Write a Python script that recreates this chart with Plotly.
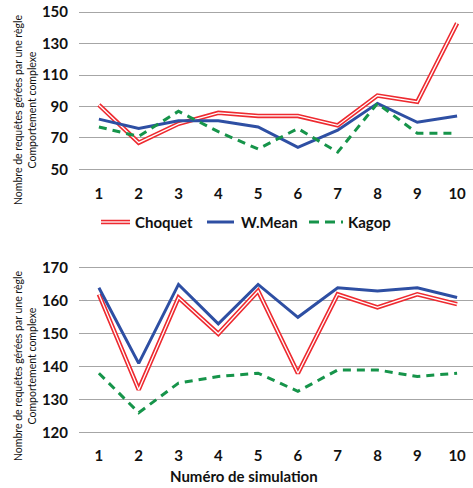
import plotly.graph_objects as go

sims = [1, 2, 3, 4, 5, 6, 7, 8, 9, 10]

top_choquet = [91, 67, 79, 86, 84, 84, 78, 97, 93, 143]
top_wmean = [82, 76, 81, 81, 77, 64, 75, 92, 80, 84]
top_kagop = [77, 71, 87, 74, 63, 76, 61, 92, 73, 73]

bot_choquet = [162, 133, 161, 150, 163, 138, 162, 158, 162, 159]
bot_wmean = [164, 141, 165, 153, 165, 155, 164, 163, 164, 161]
bot_kagop = [138, 126, 135, 137, 138, 132.5, 139, 139, 137, 138]

top_ticks = [50, 70, 90, 110, 130, 150]
bot_ticks = [120, 130, 140, 150, 160, 170]

RED = "#EE2A30"
BLUE = "#2E4FA3"
GREEN = "#16944A"
FONT = "Lato"

W, H = 473, 488
ML, MR, MT, MB = 79, 0, 9, 49
PW = W - ML - MR
PH = H - MT - MB


def px_x(x):
    return (x - ML) / PW


def px_y(y):
    return (H - MB - y) / PH


fig = go.Figure()


def add_series(xa, ya, choq, wm, kg):
    fig.add_trace(go.Scatter(x=sims, y=choq, mode="lines", xaxis=xa, yaxis=ya,
                             line=dict(color=RED, width=4.5), showlegend=False))
    fig.add_trace(go.Scatter(x=sims, y=choq, mode="lines", xaxis=xa, yaxis=ya,
                             line=dict(color="white", width=1.3), showlegend=False))
    fig.add_trace(go.Scatter(x=sims, y=wm, mode="lines", xaxis=xa, yaxis=ya,
                             line=dict(color=BLUE, width=3), showlegend=False))
    fig.add_trace(go.Scatter(x=sims, y=kg, mode="lines", xaxis=xa, yaxis=ya,
                             line=dict(color=GREEN, width=3, dash="8px,6px"),
                             showlegend=False))


add_series("x", "y", top_choquet, top_wmean, top_kagop)
add_series("x2", "y2", bot_choquet, bot_wmean, bot_kagop)

xcommon = dict(range=[0.5, 10.4], tickvals=sims, showgrid=False, zeroline=False,
               showline=False, ticks="",
               tickfont=dict(family=FONT, size=15, color="#111", weight="bold"))
ycommon = dict(showgrid=True, gridcolor="#A6A6A6", gridwidth=1.2, zeroline=False,
               showline=False, ticks="", ticklabelstandoff=10,
               tickfont=dict(family=FONT, size=15, color="#111", weight="bold"))

top_dom = [px_y(172.6), 1.0]
bot_dom = [0.0, px_y(261.4)]

fig.update_layout(
    width=W, height=H,
    margin=dict(l=ML, r=MR, t=MT, b=MB),
    paper_bgcolor="white", plot_bgcolor="white",
    xaxis=dict(**xcommon, anchor="y", ticklabelstandoff=10),
    yaxis=dict(**ycommon, domain=top_dom, range=[48, 152], tickvals=top_ticks),
    xaxis2=dict(**xcommon, anchor="y2", ticklabelstandoff=6),
    yaxis2=dict(**ycommon, domain=bot_dom, range=[118, 172], tickvals=bot_ticks),
    showlegend=False,
)

ytitle = "Nombre de requêtes gérées par une règle<br>Comportement complexe"
annots = [
    dict(text=ytitle, x=px_x(25), y=px_y(110), textangle=-90, showarrow=False,
         xref="paper", yref="paper", xanchor="center", yanchor="middle",
         font=dict(family=FONT, size=10.5, color="#111")),
    dict(text=ytitle, x=px_x(25), y=px_y(366), textangle=-90, showarrow=False,
         xref="paper", yref="paper", xanchor="center", yanchor="middle",
         font=dict(family=FONT, size=10.5, color="#111")),
    dict(text="Numéro de simulation", x=px_x(244), y=px_y(476), showarrow=False,
         xref="paper", yref="paper", xanchor="center", yanchor="middle",
         font=dict(family=FONT, size=15, color="#111", weight="bold")),
]

# manual legend
LY = 222
legend_items = [
    ("Choquet", 101, 130, 133, "choquet"),
    ("W.Mean", 207, 234, 239, "wmean"),
    ("Kagop", 309, 343, 346, "kagop"),
]
shapes = []
for name, x0, x1, tx, kind in legend_items:
    if kind == "choquet":
        shapes.append(dict(type="line", xref="paper", yref="paper", x0=px_x(x0), x1=px_x(x1),
                           y0=px_y(LY), y1=px_y(LY), line=dict(color=RED, width=4.5)))
        shapes.append(dict(type="line", xref="paper", yref="paper", x0=px_x(x0), x1=px_x(x1),
                           y0=px_y(LY), y1=px_y(LY), line=dict(color="white", width=1.3)))
    elif kind == "wmean":
        shapes.append(dict(type="line", xref="paper", yref="paper", x0=px_x(x0), x1=px_x(x1),
                           y0=px_y(LY), y1=px_y(LY), line=dict(color=BLUE, width=3)))
    else:
        shapes.append(dict(type="line", xref="paper", yref="paper", x0=px_x(x0), x1=px_x(x1),
                           y0=px_y(LY), y1=px_y(LY),
                           line=dict(color=GREEN, width=3, dash="10px,6px")))
    annots.append(dict(text=name, x=px_x(tx), y=px_y(LY), showarrow=False,
                       xref="paper", yref="paper", xanchor="left", yanchor="middle",
                       font=dict(family=FONT, size=15, color="#111", weight="bold")))

fig.update_layout(annotations=annots, shapes=shapes)

fig.write_html("out.html")
